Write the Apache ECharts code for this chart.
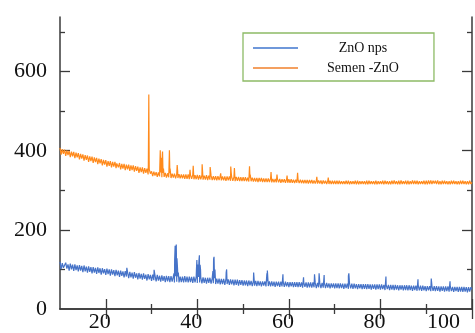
<!DOCTYPE html>
<html><head><meta charset="utf-8">
<script src="https://cdn.jsdelivr.net/npm/echarts@6/dist/echarts.min.js"></script>
<style>html,body{margin:0;padding:0;background:#fff}#c{width:475px;height:333px}</style>
</head><body><div id="c"></div>
<script>
// 2-theta sampling start/step for the baseline readings
const angleStart = 10, angleStep = 0.25;
// Semen-ZnO baseline readings (10.00 .. 100.00 every 0.25 deg, one row per degree)
const semenBase = [
407,390,404,392, 403,387,401,389, 400,384,398,386, 397,381,395,383, 394,378,392,380,
391,375,389,377, 388,372,386,374, 385,369,383,371, 382,366,380,368, 379,363,377,365,
376,360,374,362, 374,358,372,360, 372,356,370,358, 369,353,367,355, 367,351,365,353,
365,349,363,351, 363,347,361,349, 360,344,358,346, 358,342,356,344, 355,340,353,342,
348,336,347,337, 346,334,345,335, 345,333,344,334, 344,332,343,333, 343,331,342,332,
342,330,341,331, 341,330,340,330, 340,329,340,329, 340,328,339,329, 339,328,338,328,
339,327,338,328, 338,327,337,327, 338,326,337,327, 337,326,336,326, 336,325,336,326,
336,325,335,325, 335,324,335,325, 335,324,334,324, 334,323,334,324, 334,323,333,323,
333,323,333,323, 332,322,332,323, 332,322,331,322, 331,321,331,322, 331,321,330,321,
330,321,330,321, 330,320,329,320, 329,320,329,320, 329,319,328,320, 328,319,328,319,
328,319,328,319, 327,318,327,319, 327,318,327,318, 326,318,326,318, 326,317,326,318,
326,317,325,317, 325,317,325,317, 325,316,325,317, 324,316,324,316, 324,316,324,316,
324,316,324,316, 324,316,323,316, 323,316,324,316, 324,315,323,316, 323,316,324,315,
324,315,323,316, 323,316,323,315, 324,315,324,316, 323,316,323,315, 324,315,323,316,
323,316,324,315, 324,316,323,315, 323,315,324,316, 325,316,323,315, 324,315,325,316,
323,316,324,315, 324,315,323,316, 325,316,324,316, 324,315,323,316, 323,316,324,315,
324,315,325,316, 325,316,324,317, 324,316,325,315, 323,315,324,316, 324,316,323,315,
323,315,324,316, 324,316,323,315, 323,315,324,316, 324,316,323,315, 323,315,324,316,
320];
// ZnO nps baseline readings (10.00 .. 100.00 every 0.25 deg, one row per degree)
const znoBase = [
119,101,116,104, 99,117,102,113, 97,115,100,112, 96,113,98,110, 95,111,97,109,
93,110,95,107, 92,108,94,106, 90,106,92,104, 89,105,91,103, 87,103,90,101,
86,102,88,100, 84,100,87,98, 83,99,85,97, 81,97,84,95, 80,96,82,94,
78,94,80,92, 77,93,79,90, 75,91,77,89, 74,90,76,87, 72,88,75,86,
71,87,73,85, 70,86,72,84, 69,85,71,83, 68,84,70,83, 68,83,69,82,
67,83,69,82, 67,82,68,82, 67,83,68,82, 67,82,68,81, 66,82,67,81,
66,81,67,80, 65,80,66,79, 64,79,66,79, 64,78,65,78, 63,77,64,77,
62,76,63,76, 61,76,63,75, 61,75,62,74, 60,74,61,74, 59,73,61,73,
59,72,60,72, 58,72,60,71, 58,71,59,71, 58,71,59,70, 57,70,59,70,
57,70,58,70, 57,70,58,69, 56,69,58,69, 56,69,57,69, 56,69,57,68,
55,68,57,68, 55,68,56,68, 55,68,56,67, 54,67,56,67, 54,67,55,67,
54,67,55,66, 53,66,55,66, 53,66,54,66, 53,66,54,65, 52,65,54,65,
52,65,53,65, 52,65,53,64, 51,64,53,64, 51,64,52,64, 51,64,52,63,
50,63,52,63, 50,63,51,63, 50,63,51,62, 49,62,51,62, 49,62,50,62,
49,62,50,61, 48,61,50,61, 48,61,49,61, 48,61,49,60, 47,60,49,60,
47,60,48,60, 47,60,48,59, 46,59,48,59, 46,59,47,59, 46,59,47,58,
45,58,47,58, 45,58,46,58, 45,58,46,57, 44,57,46,57, 44,57,45,57,
44,57,45,56, 43,56,45,56, 43,56,44,56, 43,56,44,55, 42,55,44,55,
49];
// diffraction peaks [2theta, intensity]
const semenPeaks = [[10.1,412],[22.4,368],[26.2,366],[29.3,365],[29.4,542],[29.48,375],
[31.8,358],[31.9,401],[32.1,382],[32.35,390],[32.4,398],[32.6,355],[33.8,352],[33.9,401],[34.05,355],
[35.6,364],[35.7,348],[38.4,352],[39.1,362],[41.05,366],[42.8,359],[45.1,343],[47.3,360],[47.4,345],[48.1,356],
[51.4,361],[51.55,340],[56.1,346],[57.4,340],[59.6,337],[61.9,344],[66.1,334],[68.6,332],[75.2,329]];
const znoPeaks = [[24.6,104],[30.55,99],[34.9,90],[35.05,125],[35.15,160],[35.3,146],[35.4,163],[35.55,128],[35.65,108],[35.85,92],
[39.8,98],[39.9,124],[40.05,112],[40.2,106],[40.35,122],[40.45,136],[40.6,112],[40.7,100],
[43.4,96],[43.55,126],[43.65,132],[43.85,100],[46.3,92],[46.4,100],[52.3,92],
[55.2,90],[55.3,97],[58.7,88],[63.2,80],[65.6,88],[66.6,90],[67.7,86],[73.0,84],[73.1,90],[81.2,82],[88.2,75],[91.1,77],[95.2,70]];
const xMajor = [20,40,60,80,100], xMinor = [30,50,70,90];
const yMajor = [200,400,600], yLabels = [0,200,400,600], yMinor = [100,300,500,700];
const seriesNames = ['ZnO nps','Semen -ZnO'];

function merge(base, peaks){
  const pts = base.map((v,i)=>[angleStart+i*angleStep, v]);
  peaks.forEach(p=>pts.push(p));
  pts.sort((a,b)=>a[0]-b[0]);
  return pts;
}
const font = 'Liberation Serif';
const axCol = '#3a3a3a';
function ax(pos, ticks, len, line, labels, extra){
  return Object.assign({
    type:'value', position:pos, splitLine:{show:false},
    axisLine:{show:line, lineStyle:{color:axCol,width:1.5}},
    axisTick:{show:true, inside:true, length:len, customValues:ticks, lineStyle:{color:axCol,width:1.3}},
    axisLabel: labels ? {show:true, customValues:labels, fontFamily:font, fontSize:22, color:'#111'} : {show:false}
  }, extra||{});
}
const chart = echarts.init(document.getElementById('c'));
const xr = {min:10,max:100}, yr = {min:0,max:738};
const xa0 = ax('bottom', xMajor, 10, true, xMajor, xr);
xa0.axisLabel.margin = 2; xa0.axisLabel.alignMaxLabel = 'right';
xa0.axisLabel.padding = [0,12,0,0];
const ya0 = ax('left', yMajor, 10, true, yLabels, yr);
ya0.axisLabel.margin = 13;
chart.setOption({
  animation:false,
  grid:{left:60,right:3,top:17,bottom:22},
  legend:{
    orient:'vertical', left:243, top:33, padding:[8,35,6,10], itemGap:6,
    icon:'rect', itemWidth:45, itemHeight:2, borderColor:'#8DBB66', borderWidth:1.3,
    textStyle:{fontFamily:font, fontSize:14, color:'#111',
      rich:{a:{width:120, height:14, align:'center', fontFamily:font, fontSize:14}}},
    formatter: n => '{a|'+n+'}',
    data:[{name:seriesNames[0], itemStyle:{color:'#6F98DA'}},
          {name:seriesNames[1], itemStyle:{color:'#F4A060'}}]
  },
  xAxis:[xa0, ax('bottom', xMinor, 5, false, null, xr), ax('top', xMajor, 10, true, null, xr), ax('top', xMinor, 5, false, null, xr)],
  yAxis:[ya0, ax('left', yMinor, 5, false, null, yr), ax('right', yMajor, 10, true, null, yr), ax('right', yMinor, 5, false, null, yr)],
  series:[
    {name:seriesNames[0], type:'line', symbol:'none', data:merge(znoBase, znoPeaks), lineStyle:{color:'#4673C8',width:1.2}, itemStyle:{color:'#4673C8'}},
    {name:seriesNames[1], type:'line', symbol:'none', data:merge(semenBase, semenPeaks), lineStyle:{color:'#FF8A1C',width:1.2}, itemStyle:{color:'#FF8A1C'}}
  ]
});
</script></body></html>
